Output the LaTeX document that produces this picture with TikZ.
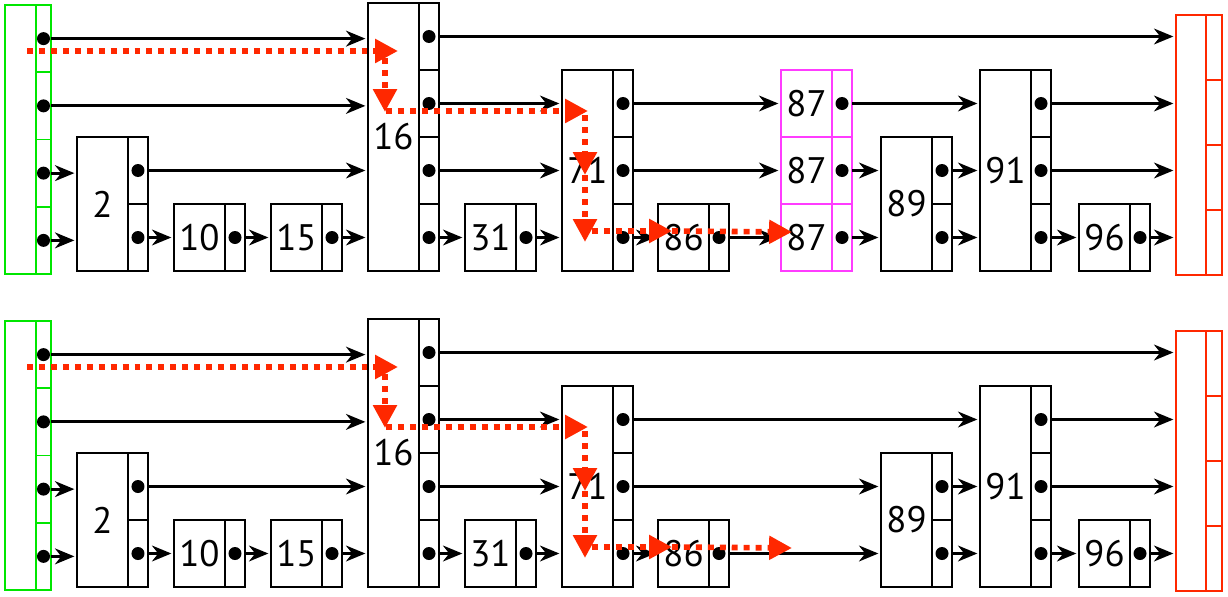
\documentclass[tikz,border=0pt]{standalone}
\usepackage{fontspec}
\setmainfont{PT Sans}
\usepackage{tikz}
\usetikzlibrary{arrows.meta}
\definecolor{headgreen}{RGB}{0,230,0}
\definecolor{tailred}{RGB}{255,40,0}
\definecolor{hitpink}{RGB}{255,60,255}
\definecolor{searchred}{RGB}{255,40,0}
% one tower: key box plus a column of pointer cells (#1 style, #2 name, #3 x, #4 levels, #5 key)
\newcommand{\tower}[5][]{%
  \node[keycell, #1, minimum height=#4*1.34cm, anchor=south west] (#2) at (#3,\base) {#5};
  \foreach \i in {1,...,#4}
    \node[ptrcell, #1, anchor=south west] (#2-\i) at ({#3+51},{\base-(\i-1)*67}) {};
}

\begin{document}
\begin{tikzpicture}[
  x=0.02cm, y=-0.02cm,
  keycell/.style={draw, line width=1.1pt, inner sep=0pt, outer sep=0pt, minimum width=1.02cm, font=\fontsize{21}{24}\selectfont},
  ptrcell/.style={draw, line width=1.1pt, inner sep=0pt, outer sep=0pt, minimum width=0.4cm, minimum height=1.34cm},
  headcell/.style={draw=headgreen},
  tailcell/.style={draw=tailred},
  hitcell/.style={draw=hitpink},
  ptr/.style={-{Stealth[length=11pt,width=9pt,inset=3.5pt]}, line width=1.6pt, shorten >=1.5pt},
  search/.style={searchred, line width=3.2pt, dash pattern=on 3.4pt off 3.4pt, -{Triangle[length=13pt,width=13pt]}}
]
  \useasboundingbox (0,0) rectangle (1228,597);

  \foreach \pn/\base in {up/271, lo/587} {
    % head and tail
    \node[keycell, headcell, minimum width=0.62cm, minimum height=5.38cm, anchor=south west] (\pn head) at (5,{\base+3}) {};
    \foreach \i in {1,...,4}
      \node[ptrcell, headcell, minimum width=0.3cm, minimum height=1.345cm, anchor=south west] (\pn head-\i) at (36,{\base+3-(\i-1)*67.25}) {};
    \node[keycell, tailcell, minimum width=0.6cm, minimum height=5.2cm, anchor=south west] (\pn tail) at (1176,{\base+4}) {};
    \foreach \i in {1,...,4}
      \node[ptrcell, tailcell, minimum width=0.32cm, minimum height=1.3cm, anchor=south west] (\pn tail-\i) at (1206,{\base+4-(\i-1)*65}) {};

    % towers
    \tower{\pn2}{77}{2}{2}
    \tower{\pn10}{174}{1}{10}
    \tower{\pn15}{271}{1}{15}
    \tower{\pn16}{368}{4}{16}
    \tower{\pn31}{465}{1}{31}
    \tower{\pn71}{562}{3}{71}
    \tower{\pn86}{658}{1}{86}
    \tower{\pn89}{881}{2}{89}
    \tower{\pn91}{980}{3}{91}
    \tower{\pn96}{1079}{1}{96}

    % forward pointers
    \foreach \a/\b in {head-4/16, head-3/16, head-2/2, head-1/2, 2-2/16, 2-1/10, 10-1/15, 15-1/16,
                       16-4/tail, 16-3/71, 16-2/71, 16-1/31, 31-1/71, 71-1/86,
                       89-2/91, 89-1/91, 91-3/tail, 91-2/tail, 91-1/96, 96-1/tail} {
      \fill (\pn\a) circle[radius=3.7pt];
      \draw[ptr] (\pn\a) -- (\pn\a -| \pn\b.west);
    }
  }

  % the inserted 87 tower, upper list only
  \foreach \i in {1,2,3} {
    \node[keycell, hitcell, minimum height=1.34cm, anchor=south west] (up87-\i) at (781,{271-(\i-1)*67}) {87};
    \node[ptrcell, hitcell, anchor=south west] (up87-\i-p) at (832,{271-(\i-1)*67}) {};
  }
  \foreach \a/\b in {up71-3/up87-3, up71-2/up87-2, up86-1/up87-1, up87-3-p/up91, up87-2-p/up89, up87-1-p/up89,
                     lo71-3/lo91, lo71-2/lo89, lo86-1/lo89} {
    \fill (\a) circle[radius=3.7pt];
    \draw[ptr] (\a) -- (\a -| \b.west);
  }

  % search path
  \foreach \pn/\base in {up/271, lo/587} {
    \coordinate (\pn s0) at (27,{\base-220});
    \coordinate (\pn s1) at (398,{\base-220});
    \coordinate (\pn s2) at (385,{\base-213});
    \coordinate (\pn s3) at (385,{\base-159});
    \coordinate (\pn s4) at (386,{\base-160});
    \coordinate (\pn s5) at (588,{\base-160});
    \coordinate (\pn s6) at (585,{\base-156});
    \coordinate (\pn s7) at (585,{\base-96});
    \coordinate (\pn s8) at (585,{\base-29});
    \coordinate (\pn s9) at (592,{\base-40});
    \coordinate (\pn s10) at (672,{\base-40});
    \coordinate (\pn s11) at (792,{\base-39});
    \foreach \u/\v in {s0/s1, s2/s3, s4/s5, s6/s7, s7/s8, s9/s10, s10/s11}
      \draw[search] (\pn\u) -- (\pn\v);
  }
\end{tikzpicture}
\end{document}
